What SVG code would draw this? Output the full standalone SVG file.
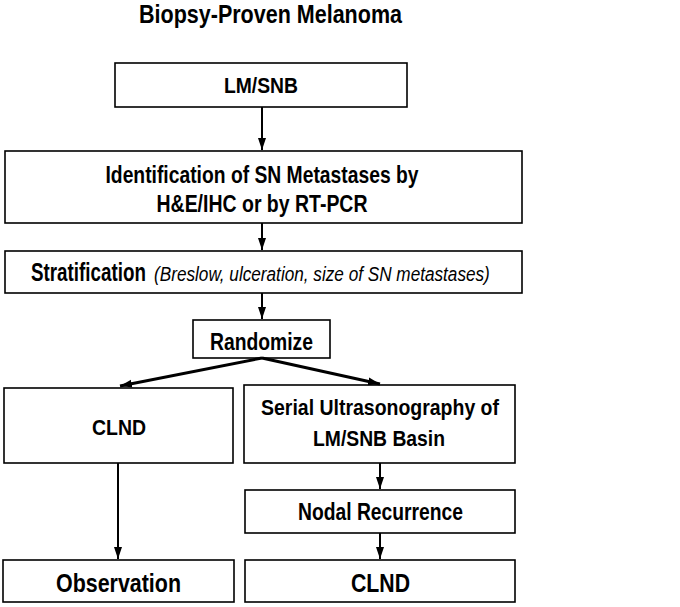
<svg xmlns="http://www.w3.org/2000/svg" width="680" height="607" viewBox="0 0 680 607">
<style>
.box{fill:#fff;stroke:#000;stroke-width:1.6}
.t{font-family:"Liberation Sans",Arial,sans-serif;font-weight:bold;fill:#000;text-anchor:middle}
.s{font-family:"Liberation Sans",Arial,sans-serif;fill:#000}
.c{stroke:#000;stroke-width:2;fill:none}
.b{stroke:#000;stroke-width:3;fill:none}
</style>
<defs>
<marker id="ah" markerWidth="12" markerHeight="10" refX="12" refY="5" orient="auto" markerUnits="userSpaceOnUse">
<path d="M0,1 L12,5 L0,9 Z" fill="#000"/>
</marker>
</defs>
<rect width="680" height="607" fill="#fff"/>
<text class="t" x="270.5" y="23" font-size="25" textLength="263" lengthAdjust="spacingAndGlyphs">Biopsy-Proven Melanoma</text>
<g id="lmsnb"><rect class="box" x="115" y="63" width="292" height="44"/><text class="t" x="261" y="93" font-size="22.5" textLength="74" lengthAdjust="spacingAndGlyphs">LM/SNB</text></g>
<g id="ident"><rect class="box" x="5" y="151" width="517" height="72"/><text class="t" x="262" y="183" font-size="24" textLength="313" lengthAdjust="spacingAndGlyphs">Identification of SN Metastases by</text><text class="t" x="262" y="212" font-size="24" textLength="211" lengthAdjust="spacingAndGlyphs">H&amp;E/IHC or by RT-PCR</text></g>
<g id="strat"><rect class="box" x="5" y="251" width="517" height="42"/><text class="s" transform="translate(31,281) scale(0.752,1)" x="0" y="0" font-weight="bold" font-size="25">Stratification</text><text class="s" transform="translate(154,281) scale(0.818,1)" x="0" y="0" font-style="italic" font-size="21">(Breslow, ulceration, size of SN metastases)</text></g>
<g id="rand"><rect class="box" x="193" y="320" width="137" height="38"/><text class="t" x="261.5" y="350" font-size="24" textLength="103" lengthAdjust="spacingAndGlyphs">Randomize</text></g>
<g id="clnd1"><rect class="box" x="4" y="388" width="229" height="75"/><text class="t" x="119" y="435" font-size="22" textLength="54" lengthAdjust="spacingAndGlyphs">CLND</text></g>
<g id="serial"><rect class="box" x="244" y="385" width="271" height="78"/><text class="t" x="380" y="415" font-size="22.5" textLength="238" lengthAdjust="spacingAndGlyphs">Serial Ultrasonography of</text><text class="t" x="379" y="446" font-size="22.5" textLength="132" lengthAdjust="spacingAndGlyphs">LM/SNB Basin</text></g>
<g id="nodal"><rect class="box" x="245" y="490" width="270" height="43"/><text class="t" x="380.5" y="520" font-size="23.5" textLength="165" lengthAdjust="spacingAndGlyphs">Nodal Recurrence</text></g>
<g id="obs"><rect class="box" x="3" y="560" width="231" height="42"/><text class="t" x="118.5" y="592" font-size="25.5" textLength="125" lengthAdjust="spacingAndGlyphs">Observation</text></g>
<g id="clnd2"><rect class="box" x="245" y="560" width="270" height="42"/><text class="t" x="380.5" y="592" font-size="25.5" textLength="59" lengthAdjust="spacingAndGlyphs">CLND</text></g>
<g id="connectors">
<line class="c" x1="262" y1="107" x2="262" y2="150" marker-end="url(#ah)"/>
<line class="c" x1="262" y1="223" x2="262" y2="250" marker-end="url(#ah)"/>
<line class="c" x1="262" y1="293" x2="262" y2="319" marker-end="url(#ah)"/>
<line class="b" x1="262" y1="358" x2="120" y2="386" marker-end="url(#ah)"/>
<line class="b" x1="262" y1="358" x2="380" y2="384" marker-end="url(#ah)"/>
<line class="c" x1="118" y1="463" x2="118" y2="559" marker-end="url(#ah)"/>
<line class="c" x1="380" y1="463" x2="380" y2="489" marker-end="url(#ah)"/>
<line class="c" x1="380" y1="533" x2="380" y2="559" marker-end="url(#ah)"/>
</g>
</svg>
